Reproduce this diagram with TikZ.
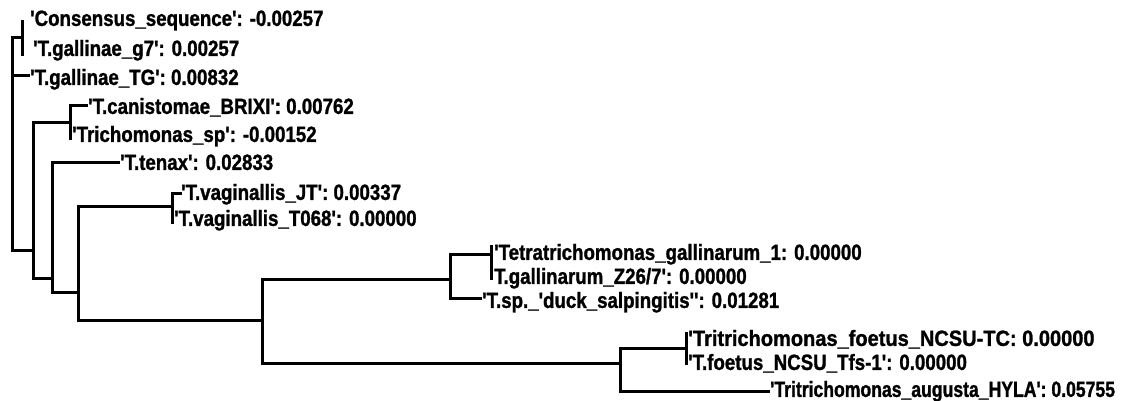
\documentclass[tikz,border=0pt]{standalone}
\usepackage{fontspec}
\newfontfamily\lab[FakeStretch=0.85,FakeBold=1.2,Ligatures=TeXOff]{Liberation Sans}
\newfontfamily\labwide[FakeStretch=0.91,FakeBold=1.2,Ligatures=TeXOff]{Liberation Sans}
\newfontfamily\labnarrow[FakeStretch=0.80,FakeBold=1.2,Ligatures=TeXOff]{Liberation Sans}
\begin{document}
\begin{tikzpicture}[x=1pt,y=-1pt,
  br/.style={line width=3pt, line join=miter, line cap=rect},
  leaf/.style={anchor=west, inner sep=0pt, font=\lab\bfseries\fontsize{22}{22}\selectfont, text height=15.8pt, text depth=0pt},
  leafwide/.style={leaf, font=\labwide\bfseries\fontsize{22}{22}\selectfont},
  leafnarrow/.style={leaf, font=\labnarrow\bfseries\fontsize{22}{22}\selectfont}]
\useasboundingbox (0,0) rectangle (1131,401);
% internal nodes and branch ends
\coordinate (rA) at (12,38);
\coordinate (rTG) at (12,76);
\coordinate (rB) at (12,250);
\coordinate (A) at (22,38);
\coordinate (Atop) at (22,22);
\coordinate (Abot) at (22,55);
\coordinate (TG) at (28,76);
\coordinate (B) at (33,250);
\coordinate (Btop) at (33,122);
\coordinate (Bbot) at (33,278);
\coordinate (C) at (70,122);
\coordinate (Ctop) at (70,106);
\coordinate (Cbot) at (70,138);
\coordinate (BRIXI) at (86,106);
\coordinate (E) at (52,278);
\coordinate (Etop) at (52,162);
\coordinate (Ebot) at (52,292);
\coordinate (tenax) at (118,162);
\coordinate (H) at (78,292);
\coordinate (Htop) at (78,206);
\coordinate (Hbot) at (78,320);
\coordinate (G) at (172,206);
\coordinate (Gtop) at (172,193);
\coordinate (Gbot) at (172,222);
\coordinate (JT) at (180,193);
\coordinate (D) at (262,320);
\coordinate (Dtop) at (262,279);
\coordinate (Dbot) at (262,363);
\coordinate (I) at (450,279);
\coordinate (Itop) at (450,254);
\coordinate (Ibot) at (450,298);
\coordinate (K) at (491,254);
\coordinate (Ktop) at (491,246);
\coordinate (Kbot) at (491,278);
\coordinate (duck) at (480,298);
\coordinate (F) at (620,363);
\coordinate (Ftop) at (620,348);
\coordinate (Fbot) at (620,391);
\coordinate (L) at (686,348);
\coordinate (Ltop) at (686,333);
\coordinate (Lbot) at (686,363);
\coordinate (hyla) at (768,391);
% branches
\draw[br] (rA) -- (rB);
\draw[br] (rA) -- (A);
\draw[br] (Atop) -- (Abot);
\draw[br] (rTG) -- (TG);
\draw[br] (rB) -- (B);
\draw[br] (Btop) -- (Bbot);
\draw[br] (Btop) -- (C);
\draw[br] (Ctop) -- (Cbot);
\draw[br] (Ctop) -- (BRIXI);
\draw[br] (Bbot) -- (E);
\draw[br] (Etop) -- (Ebot);
\draw[br] (Etop) -- (tenax);
\draw[br] (Ebot) -- (H);
\draw[br] (Htop) -- (Hbot);
\draw[br] (Htop) -- (G);
\draw[br] (Gtop) -- (Gbot);
\draw[br] (Gtop) -- (JT);
\draw[br] (Hbot) -- (D);
\draw[br] (Dtop) -- (Dbot);
\draw[br] (Dtop) -- (I);
\draw[br] (Itop) -- (Ibot);
\draw[br] (Itop) -- (K);
\draw[br] (Ktop) -- (Kbot);
\draw[br] (Ibot) -- (duck);
\draw[br] (Dbot) -- (F);
\draw[br] (Ftop) -- (Fbot);
\draw[br] (Ftop) -- (L);
\draw[br] (Ltop) -- (Lbot);
\draw[br] (Fbot) -- (hyla);
% leaf labels
\node[leaf] (l1) at (30,18) {'Consensus\_sequence': -0.00257};
\node[leaf] (l2) at (33,48) {'T.gallinae\_g7': 0.00257};
\node[leaf] (l3) at (30,77) {'T.gallinae\_TG': 0.00832};
\node[leaf] (l4) at (88,106) {'T.canistomae\_BRIXI': 0.00762};
\node[leaf] (l5) at (72,134) {'Trichomonas\_sp': -0.00152};
\node[leaf] (l6) at (120,162) {'T.tenax': 0.02833};
\node[leaf] (l7) at (181,192) {'T.vaginallis\_JT': 0.00337};
\node[leaf] (l8) at (174,218) {'T.vaginallis\_T068': 0.00000};
\node[leaf] (l9) at (494,252) {'Tetratrichomonas\_gallinarum\_1: 0.00000};
\node[leaf] (l10) at (494,276) {T.gallinarum\_Z26/7': 0.00000};
\node[leaf] (l11) at (482,300) {'T.sp.\_'duck\_salpingitis'': 0.01281};
\node[leafwide] (l12) at (688,338) {'Tritrichomonas\_foetus\_NCSU-TC: 0.00000};
\node[leaf] (l13) at (688,362) {'T.foetus\_NCSU\_Tfs-1': 0.00000};
\node[leafnarrow] (l14) at (770,389) {'Tritrichomonas\_augusta\_HYLA': 0.05755};
\end{tikzpicture}
\end{document}
